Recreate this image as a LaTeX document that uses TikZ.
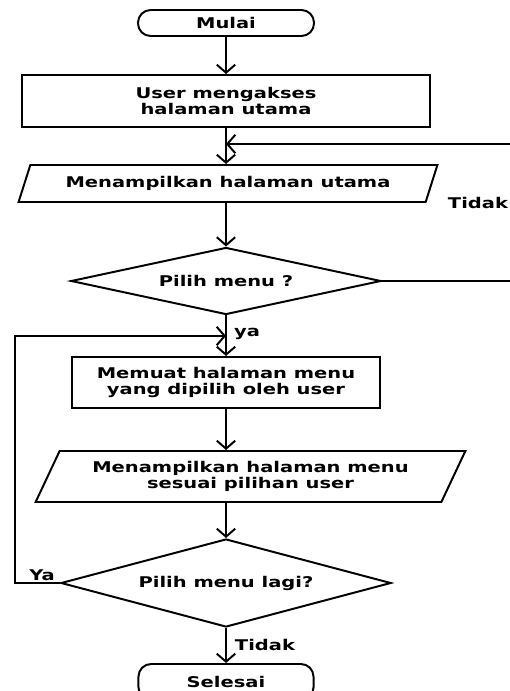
\documentclass[tikz,border=0pt]{standalone}
\usepackage{fontspec}
\setmainfont{DejaVu Sans}[FakeStretch=1.32]
\usetikzlibrary{shapes.geometric,arrows.meta}

\begin{document}
\begin{tikzpicture}[x=0.025cm,y=-0.025cm,
        every node/.style={font=\fontsize{10.5}{10.8}\selectfont\bfseries,align=center},
        terminal/.style={draw,line width=1.4pt,rounded corners=9pt,minimum width=4.4cm,minimum height=0.65cm},
        proses/.style={draw,line width=1.4pt,inner sep=0pt},
        io/.style={draw,line width=1.4pt,trapezium,trapezium left angle=56,trapezium right angle=124,trapezium stretches=true,inner sep=0pt},
        keputusan/.style={draw,line width=1.4pt,diamond,inner sep=0pt},
        panah/.style={line width=1.4pt,-{Straight Barb[length=2mm,width=4.6mm]}}]
        \useasboundingbox (0,0) rectangle (510,691);
        \node[terminal] (mulai) at (226,23) {Mulai};
        \node[proses,minimum width=10.2cm,minimum height=1.3cm] (akses) at (226,101) {User mengakses\\halaman utama};
        \node[io,minimum width=10.5cm,minimum height=0.925cm] (tampil) at (228,183.5) {Menampilkan halaman utama};
        \node[keputusan,aspect=4.6,minimum width=7.75cm,minimum height=1.675cm] (pilih) at (226,281) {Pilih menu ?};
        \node[proses,minimum width=7.7cm,minimum height=1.275cm] (muat) at (226,382.5) {Memuat halaman menu\\yang dipilih oleh user};
        \node[io,minimum width=10.775cm,minimum height=1.275cm] (sesuai) at (250.5,476.5) {Menampilkan halaman menu\\sesuai pilihan user};
        \node[keputusan,aspect=3.75,minimum width=8.25cm,minimum height=2.2cm] (lagi) at (226,583) {Pilih menu lagi?};
        \node[terminal,minimum width=4.375cm,minimum height=0.9cm] (selesai) at (226,682) {Selesai};
        % titik belok
        \coordinate (masuk) at (226,144);
        \coordinate (kanan) at (516,281);
        \coordinate (balik) at (226,336);
        \coordinate (kiri) at (15,583);
        % label cabang
        \node (tidak1) at (478,203) {Tidak};
        \node (ya1) at (247,334) {ya};
        \node (ya2) at (42,575) {Ya};
        \node (tidak2) at (265,645) {Tidak};
        \draw[panah] (mulai) -- (akses);
        \draw[panah] (akses) -- (akses |- tampil.north);
        \draw[panah] (tampil.south -| pilih) -- (pilih);
        \draw[panah] (pilih) -- (muat);
        \draw[panah] (muat) -- (muat |- sesuai.north);
        \draw[panah] (sesuai.south -| lagi) -- (lagi);
        \draw[panah] (lagi) -- (selesai);
        \draw[panah] (pilih.east) -- (kanan) |- (masuk); %tidak: kembali ke halaman utama
        \draw[panah] (lagi.west) -- (kiri) |- (balik); %ya: pilih menu lagi
    \end{tikzpicture}
\end{document}
